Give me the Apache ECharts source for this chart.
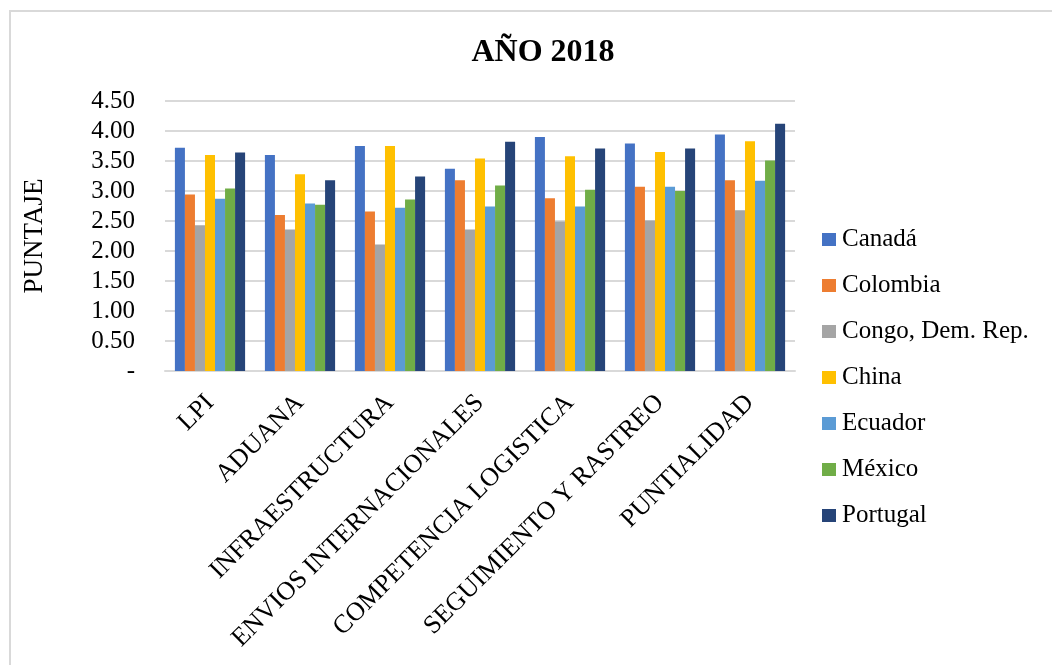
<!DOCTYPE html>
<html>
<head>
<meta charset="utf-8">
<script src="https://cdn.jsdelivr.net/npm/echarts@6/dist/echarts.min.js"></script>
<style>
  html, body { margin: 0; padding: 0; background: #fff; }
  #wrap { position: relative; width: 1052px; height: 665px; }
  #frame { position: absolute; left: 9px; top: 10px; right: 0; bottom: 0;
           border-left: 2px solid #d9d9d9; border-top: 2px solid #d9d9d9; pointer-events: none; }
  #chart { width: 1052px; height: 665px; }
</style>
</head>
<body>
<div id="wrap">
  <div id="chart"></div>
  <div id="frame"></div>
</div>
<script>
const categories = ['LPI', 'ADUANA', 'INFRAESTRUCTURA', 'ENVIOS INTERNACIONALES',
  'COMPETENCIA LOGISTICA', 'SEGUIMIENTO Y RASTREO', 'PUNTIALIDAD']

const countries = ['Canadá', 'Colombia', 'Congo, Dem. Rep.', 'China', 'Ecuador', 'México', 'Portugal']

const canada = [3.72, 3.60, 3.75, 3.37, 3.90, 3.79, 3.94]
const colombia = [2.94, 2.60, 2.66, 3.18, 2.88, 3.07, 3.18]
const congo = [2.43, 2.36, 2.11, 2.36, 2.49, 2.51, 2.68]
const china = [3.60, 3.28, 3.75, 3.54, 3.58, 3.65, 3.83]
const ecuador = [2.87, 2.79, 2.72, 2.74, 2.74, 3.07, 3.17]
const mexico = [3.04, 2.77, 2.86, 3.09, 3.02, 3.00, 3.51]
const portugal = [3.64, 3.18, 3.24, 3.82, 3.71, 3.71, 4.12]

const seriesData = [canada, colombia, congo, china, ecuador, mexico, portugal]
const colors = ['#4472c4', '#ed7d31', '#a5a5a5', '#ffc000', '#5b9bd5', '#70ad47', '#264478']

const serif = '"Liberation Serif", "Times New Roman", serif'

const myChart = echarts.init(document.getElementById('chart'))

const options = {
  color: colors,
  title: {
    text: 'AÑO 2018',
    left: 538,
    top: 32,
    textAlign: 'center',
    textStyle: {
      fontFamily: serif,
      fontWeight: 'bold',
      fontSize: 32,
      color: '#000'
    }
  },
  legend: {
    orient: 'vertical',
    left: 817,
    top: 222,
    itemWidth: 14,
    itemHeight: 13,
    itemGap: 21,
    icon: 'rect',
    textStyle: {
      fontFamily: serif,
      fontSize: 25,
      lineHeight: 25,
      color: '#000',
      padding: [0, 0, 0, 1]
    },
    data: countries
  },
  grid: {
    left: 165,
    right: 257,
    top: 101,
    bottom: 294
  },
  xAxis: {
    type: 'category',
    data: categories,
    axisTick: { show: false },
    axisLine: { lineStyle: { color: '#d9d9d9', width: 2 } },
    axisLabel: {
      rotate: 45,
      interval: 0,
      margin: 28,
      fontFamily: serif,
      fontSize: 26,
      color: '#000'
    }
  },
  yAxis: {
    type: 'value',
    min: 0,
    max: 4.5,
    interval: 0.5,
    name: 'PUNTAJE',
    nameLocation: 'middle',
    nameGap: 117,
    nameRotate: 90,
    nameTextStyle: {
      fontFamily: serif,
      fontSize: 27,
      color: '#000'
    },
    axisLine: { show: false },
    axisTick: { show: false },
    splitLine: { lineStyle: { color: '#d9d9d9', width: 2 } },
    axisLabel: {
      margin: 30,
      fontFamily: serif,
      fontSize: 25,
      color: '#000',
      formatter: (v) => (v === 0 ? '-' : v.toFixed(2))
    }
  },
  series: countries.map((name, i) => ({
    name: name,
    type: 'bar',
    data: seriesData[i],
    barGap: '0%',
    barCategoryGap: '22%',
    itemStyle: { color: colors[i] }
  }))
}

myChart.setOption(options)
</script>
</body>
</html>
